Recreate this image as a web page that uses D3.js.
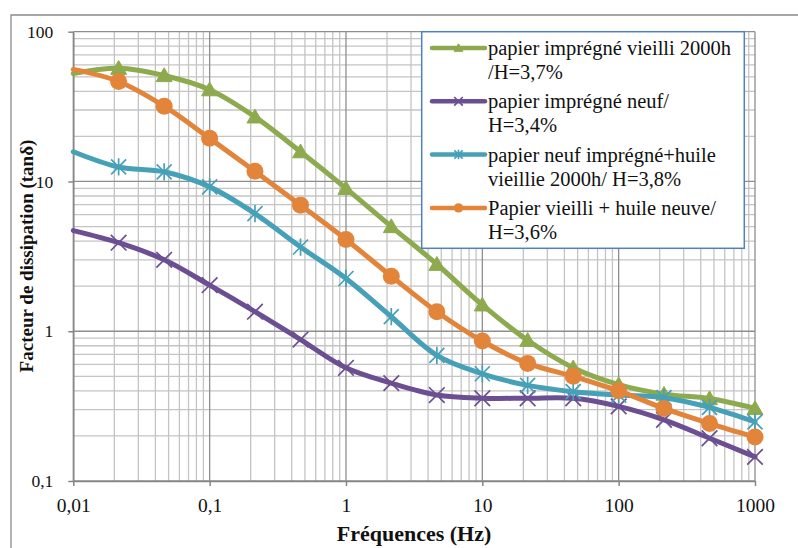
<!DOCTYPE html>
<html>
<head>
<meta charset="utf-8">
<script src="https://cdn.jsdelivr.net/npm/d3@7"></script>
<style>
  html, body { margin: 0; padding: 0; background: #fff; }
  svg { display: block; }
  svg text { font-family: "Liberation Serif", "Times New Roman", "DejaVu Serif", serif; }
</style>
</head>
<body>
<svg id="chart" width="798" height="548"></svg>
<script>
// Frequencies (Hz), three points per decade
const frequencies = [0.01, 0.0215, 0.0464, 0.1, 0.215, 0.464, 1, 2.15, 4.64, 10, 21.5, 46.4, 100, 215, 464, 1000];

// Dissipation factor per sample
const agedImpregnated = [52.5, 57, 51, 41, 27, 15.8, 9.0, 5.0, 2.8, 1.5, 0.87, 0.57, 0.44, 0.38, 0.355, 0.305];
const newImpregnated  = [4.7, 3.9, 3.0, 2.03, 1.35, 0.88, 0.57, 0.45, 0.375, 0.357, 0.357, 0.357, 0.315, 0.256, 0.193, 0.145];
const newPaperAgedOil = [15.8, 12.5, 11.6, 9.2, 6.1, 3.65, 2.25, 1.25, 0.69, 0.52, 0.435, 0.395, 0.375, 0.36, 0.31, 0.248];
const agedPaperNewOil = [56, 46.5, 31.8, 19.4, 11.7, 6.95, 4.1, 2.33, 1.35, 0.86, 0.61, 0.5, 0.4, 0.305, 0.242, 0.197];

const seriesNames = [
  ["papier imprégné vieilli 2000h", "/H=3,7%"],
  ["papier imprégné neuf/", "H=3,4%"],
  ["papier neuf imprégné+huile", "vieillie 2000h/ H=3,8%"],
  ["Papier vieilli + huile neuve/", "H=3,6%"]
];
const seriesValues = [agedImpregnated, newImpregnated, newPaperAgedOil, agedPaperNewOil];
const seriesColors = ["#8dab4e", "#6c4f92", "#46a0b8", "#e3843b"];
const seriesMarkers = ["triangle", "cross", "star", "circle"];

const xTickValues = [0.01, 0.1, 1, 10, 100, 1000];
const xTickLabels = ["0,01", "0,1", "1", "10", "100", "1000"];
const yTickValues = [0.1, 1, 10, 100];
const yTickLabels = ["0,1", "1", "10", "100"];

const xTitle = "Fréquences (Hz)";
const yTitle = "Facteur de dissipation (tanδ)";

const serif = '"Liberation Serif", "Times New Roman", "DejaVu Serif", serif';
const svg = d3.select("#chart");

const plot = { left: 73.3, right: 755, top: 31.7, bottom: 481 };
const x = d3.scaleLog().domain([0.01, 1000]).range([plot.left, plot.right]);
const y = d3.scaleLog().domain([0.1, 100]).range([plot.bottom, plot.top]);

// Outer chart frame
svg.append("path")
  .attr("d", `M11,560 L11,15 L810,15`)
  .attr("fill", "none")
  .attr("stroke", "#8a8a8a")
  .attr("stroke-width", 1.3);

// Minor and major grid lines
function minorValues(lo, hi) {
  const out = [];
  for (let d = lo; d < hi; d *= 10) {
    for (let k = 2; k <= 9; k++) out.push(d * k);
  }
  return out;
}
const grid = svg.append("g");
grid.selectAll(".xminor").data(minorValues(0.01, 1000)).join("line")
  .attr("x1", d => x(d)).attr("x2", d => x(d))
  .attr("y1", plot.top).attr("y2", plot.bottom)
  .attr("stroke", "#c4c4c4").attr("stroke-width", 1.3);
grid.selectAll(".yminor").data(minorValues(0.1, 100)).join("line")
  .attr("y1", d => y(d)).attr("y2", d => y(d))
  .attr("x1", plot.left).attr("x2", plot.right)
  .attr("stroke", "#c4c4c4").attr("stroke-width", 1.3);
grid.selectAll(".xmajor").data(xTickValues).join("line")
  .attr("x1", d => x(d)).attr("x2", d => x(d))
  .attr("y1", plot.top).attr("y2", plot.bottom)
  .attr("stroke", "#8e8e8e").attr("stroke-width", 1.3);
grid.selectAll(".ymajor").data(yTickValues).join("line")
  .attr("y1", d => y(d)).attr("y2", d => y(d))
  .attr("x1", plot.left).attr("x2", plot.right)
  .attr("stroke", "#8e8e8e").attr("stroke-width", 1.3);

// Axes
const xAxis = d3.axisBottom(x)
  .tickValues(xTickValues)
  .tickFormat((d, i) => xTickLabels[i])
  .tickSizeInner(5).tickSizeOuter(0).tickPadding(12);
const yAxis = d3.axisLeft(y)
  .tickValues(yTickValues)
  .tickFormat((d, i) => yTickLabels[i])
  .tickSizeInner(5).tickSizeOuter(0).tickPadding(15);

const gx = svg.append("g").attr("transform", `translate(0,${plot.bottom})`).call(xAxis);
const gy = svg.append("g").attr("transform", `translate(${plot.left},0)`).call(yAxis);
[gx, gy].forEach(g => {
  g.attr("font-family", serif);
  g.select(".domain").attr("stroke", "#868686").attr("stroke-width", 1.5);
  g.selectAll(".tick line").attr("stroke", "#868686").attr("stroke-width", 1.5);
  g.selectAll(".tick text")
    .attr("fill", "#111")
    .attr("font-family", serif);
});
gx.selectAll(".tick text").attr("font-size", 19.5);
gy.selectAll(".tick text").attr("font-size", 17.5);

// Axis titles
svg.append("text")
  .attr("x", 414).attr("y", 541)
  .attr("text-anchor", "middle")
  .attr("font-family", serif)
  .attr("font-size", 22).attr("font-weight", "bold")
  .attr("fill", "#111")
  .text(xTitle);
svg.append("text")
  .attr("transform", "translate(33,256) rotate(-90)")
  .attr("text-anchor", "middle")
  .attr("font-family", serif)
  .attr("font-size", 19).attr("font-weight", "bold")
  .attr("fill", "#111")
  .text(yTitle);

// Marker drawing
function drawMarker(g, type, color, s) {
  if (type === "triangle") {
    g.append("path")
      .attr("d", d3.symbol(d3.symbolTriangle, 110 * s * s)())
      .attr("transform", `translate(0,${1.5 * s})`)
      .attr("fill", color).attr("stroke", color).attr("stroke-width", 1);
  } else if (type === "circle") {
    g.append("circle").attr("r", 8.5 * s).attr("fill", color);
  } else if (type === "cross") {
    const r = 7.8 * s;
    g.append("path")
      .attr("d", `M${-r},${-r}L${r},${r}M${-r},${r}L${r},${-r}`)
      .attr("stroke", color).attr("stroke-width", 1.7).attr("fill", "none");
  } else if (type === "star") {
    const r = 7.5 * s;
    g.append("path")
      .attr("d", `M${-r},${-r}L${r},${r}M${-r},${r}L${r},${-r}M0,${-r * 1.15}L0,${r * 1.15}`)
      .attr("stroke", color).attr("stroke-width", 1.7).attr("fill", "none");
  }
}

// Series lines and markers
const line = d3.line()
  .x(d => x(d[0]))
  .y(d => y(d[1]))
  .curve(d3.curveCatmullRom.alpha(0.5));

const seriesG = svg.append("g");
seriesValues.forEach((vals, i) => {
  const pts = frequencies.map((f, j) => [f, vals[j]]);
  const g = seriesG.append("g");
  g.append("path")
    .attr("d", line(pts))
    .attr("fill", "none")
    .attr("stroke", seriesColors[i])
    .attr("stroke-width", 5)
    .attr("stroke-linejoin", "round")
    .attr("stroke-linecap", "round");
  pts.filter(p => p[0] > x.domain()[0]).forEach(p => {
    const m = g.append("g").attr("transform", `translate(${x(p[0])},${y(p[1])})`);
    drawMarker(m, seriesMarkers[i], seriesColors[i], 1);
  });
});

// Legend
const legend = svg.append("g");
legend.append("rect")
  .attr("x", 421.7).attr("y", 31.7)
  .attr("width", 322.6).attr("height", 216.6)
  .attr("fill", "#fff")
  .attr("stroke", "#4f81bd").attr("stroke-width", 1.5);

seriesNames.forEach((lines, i) => {
  const top = 48 + i * 53.3;
  const item = legend.append("g");
  item.append("line")
    .attr("x1", 432).attr("x2", 485)
    .attr("y1", top).attr("y2", top)
    .attr("stroke", seriesColors[i]).attr("stroke-width", 4.5)
    .attr("stroke-linecap", "round");
  const m = item.append("g").attr("transform", `translate(458.5,${top})`);
  drawMarker(m, seriesMarkers[i], seriesColors[i], 0.55);
  lines.forEach((t, k) => {
    item.append("text")
      .attr("x", 488).attr("y", top + 7 + k * 24)
      .attr("font-family", serif)
      .attr("font-size", 20.5)
      .attr("fill", "#111")
      .text(t);
  });
});
</script>
</body>
</html>
